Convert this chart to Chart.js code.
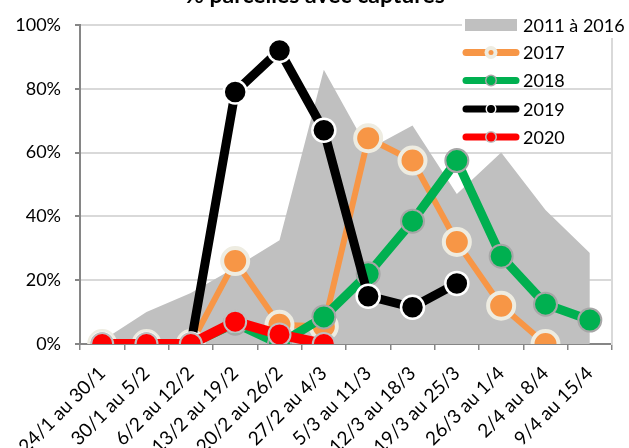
<!DOCTYPE html>
<html>
<head>
<meta charset="utf-8">
<script src="https://cdn.jsdelivr.net/npm/chart.js@4.4.1/dist/chart.umd.min.js"></script>
<style>
  body { margin: 0; background: #fff; }
  #wrap { position: relative; width: 629px; height: 448px; overflow: hidden; }
</style>
</head>
<body>
<div id="wrap"><canvas id="chart" width="629" height="448"></canvas></div>
<script>
const categories = ['24/1 au 30/1', '30/1 au 5/2', '6/2 au 12/2', '13/2 au 19/2', '20/2 au 26/2', '27/2 au 4/3',
    '5/3 au 11/3', '12/3 au 18/3', '19/3 au 25/3', '26/3 au 1/4', '2/4 au 8/4', '9/4 au 15/4'];
const avg2011_2016 = [1, 10, 16, 24, 32.5, 86, 61, 68.5, 47, 60, 42, 28.5];
const y2017 = [0, 0, 0, 26, 6, 5.5, 64.5, 57.5, 32, 12, 0, null];
const y2018 = [0, 0, 0, 6.5, 0, 8.5, 22, 38.5, 57.5, 27.5, 12.5, 7.5];
const y2019 = [0, 0, 0, 79, 92, 67, 15, 11.5, 19, null, null, null];
const y2020 = [0, 0, 0, 7, 3, 0, null, null, null, null, null, null];
const yTicks = [0, 20, 40, 60, 80, 100];

const FONT = 'Lato, "Open Sans", sans-serif';

// legend drawn by hand: thick line + small marker, like the spreadsheet one
const legendPlugin = {
    id: 'sideLegend',
    afterDraw(chart) {
        const ctx = chart.ctx;
        const rows = [25, 52.5, 80.5, 109, 137];
        ctx.save();
        ctx.fillStyle = '#fff';
        ctx.fillRect(462, 12, 170, 26);
        chart.data.datasets.forEach((ds, i) => {
            const y = rows[i];
            if (ds.fill) {
                ctx.fillStyle = ds.backgroundColor;
                ctx.fillRect(465, y - 6, 52, 12);
            } else {
                ctx.strokeStyle = ds.borderColor;
                ctx.lineWidth = 7;
                ctx.lineCap = 'round';
                ctx.beginPath();
                ctx.moveTo(466, y);
                ctx.lineTo(516, y);
                ctx.stroke();
                ctx.beginPath();
                ctx.arc(491, y, ds.legendDot, 0, Math.PI * 2);
                ctx.fillStyle = ds.pointBorderColor;
                ctx.fill();
                ctx.beginPath();
                ctx.arc(491, y, ds.legendDot - ds.legendRing, 0, Math.PI * 2);
                ctx.fillStyle = ds.pointBackgroundColor;
                ctx.fill();
            }
            ctx.fillStyle = '#000';
            ctx.font = '18px ' + FONT;
            ctx.textAlign = 'left';
            ctx.textBaseline = 'middle';
            ctx.fillText(ds.label, 523, y + 1);
        });
        // title, cut off by the top edge
        ctx.font = 'bold 23px ' + FONT;
        ctx.textAlign = 'center';
        ctx.textBaseline = 'alphabetic';
        ctx.fillText('% parcelles avec captures', 315, 3);
        ctx.restore();
    }
};

new Chart(document.getElementById('chart'), {
    type: 'line',
    data: {
        labels: categories,
        datasets: [
            { label: '2011 à 2016', data: avg2011_2016, fill: 'origin', backgroundColor: '#C0C0C0',
              borderWidth: 0, pointRadius: 0, order: 5 },
            { label: '2017', data: y2017, borderColor: '#F79646', borderWidth: 6,
              pointBackgroundColor: '#F79646', pointBorderColor: '#EEECE1', pointRadius: 13, pointBorderWidth: 4,
              legendDot: 6.5, legendRing: 4, order: 4 },
            { label: '2018', data: y2018, borderColor: '#00B050', borderWidth: 9,
              pointBackgroundColor: '#00B050', pointBorderColor: '#A6A6A6', pointRadius: 11.5, pointBorderWidth: 2,
              legendDot: 6, legendRing: 1.5, order: 3 },
            { label: '2019', data: y2019, borderColor: '#000000', borderWidth: 9,
              pointBackgroundColor: '#000000', pointBorderColor: '#FFFFFF', pointRadius: 11.5, pointBorderWidth: 2.5,
              legendDot: 5.5, legendRing: 1.5, order: 2 },
            { label: '2020', data: y2020, borderColor: '#FF0000', borderWidth: 10,
              pointBackgroundColor: '#FF0000', pointBorderColor: '#BFBFBF', pointRadius: 11, pointBorderWidth: 2,
              legendDot: 6, legendRing: 1.5, order: 1 }
        ]
    },
    options: {
        responsive: false,
        animation: false,
        layout: { padding: { top: 25, right: 14, left: 0, bottom: 0 } },
        plugins: { legend: { display: false }, tooltip: { enabled: false }, title: { display: false } },
        scales: {
            x: {
                offset: true,
                grid: { display: true, drawOnChartArea: false, drawTicks: true, tickLength: 6, color: '#868686', lineWidth: 1.5, offset: true },
                border: { color: '#868686', width: 2 },
                ticks: { autoSkip: false, minRotation: 45, maxRotation: 45, color: '#000', padding: 12, font: { family: FONT, size: 19 } },
                afterFit(s) { s.height = 104; }
            },
            y: {
                min: 0, max: 100,
                afterBuildTicks(s) { s.ticks = yTicks.map(v => ({ value: v })); },
                grid: { color: '#D9D9D9', lineWidth: 2, tickLength: 5, tickColor: '#868686' },
                border: { color: '#868686', width: 2 },
                ticks: { color: '#000', padding: 14, font: { family: FONT, size: 18 }, callback: v => v + '%' },
                afterFit(s) { s.width = 80; }
            },
            y2: {
                position: 'right', min: 0, max: 100,
                grid: { display: false, drawTicks: false },
                border: { color: '#D9D9D9', width: 2 },
                ticks: { display: false },
                afterFit(s) { s.width = 0; }
            }
        }
    },
    plugins: [legendPlugin]
});
</script>
</body>
</html>
